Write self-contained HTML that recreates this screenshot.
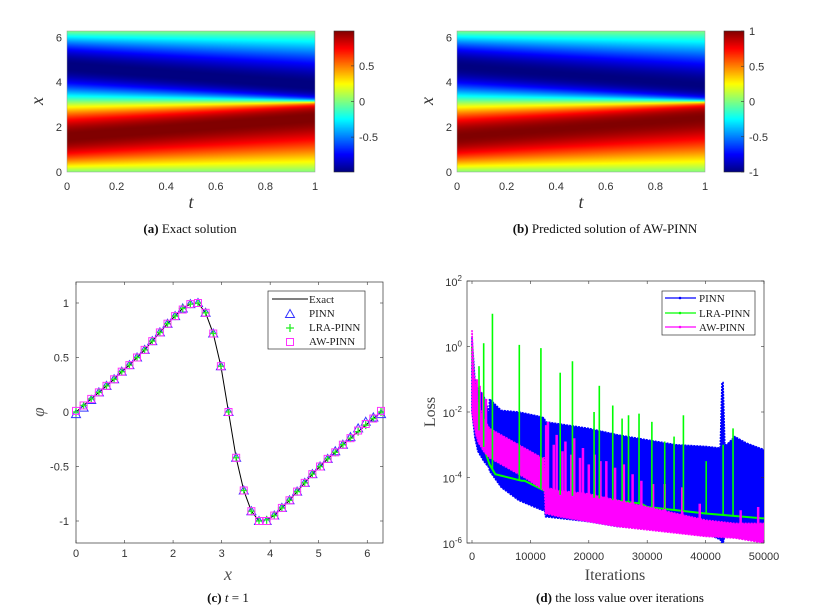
<!DOCTYPE html>
<html><head><meta charset="utf-8">
<style>
html,body{margin:0;padding:0;background:#fff;}
#wrap{position:relative;width:826px;height:607px;overflow:hidden;}
canvas{position:absolute;}
svg{position:absolute;left:0;top:0;}
</style></head>
<body>
<div id="wrap">
<canvas id="hmA" width="248" height="141" style="left:67px;top:31px"></canvas>
<canvas id="cbA" width="20" height="141" style="left:334px;top:31px"></canvas>
<canvas id="hmB" width="248" height="141" style="left:457px;top:31px"></canvas>
<canvas id="cbB" width="20" height="141" style="left:724px;top:31px"></canvas>
<svg id="svg" width="826" height="607" xmlns="http://www.w3.org/2000/svg"></svg>
</div>
<script>
// ---- panel c data ----
const cX = [0,0.157,0.314,0.471,0.628,0.785,0.942,1.100,1.257,1.414,1.571,1.728,1.885,2.042,2.199,2.356,2.513,2.670,2.827,2.985,3.142,3.299,3.456,3.613,3.770,3.927,4.084,4.241,4.398,4.555,4.712,4.869,5.027,5.184,5.341,5.498,5.655,5.812,5.969,6.126,6.283];
const cExact = [0,0.06,0.12,0.18,0.24,0.30,0.37,0.43,0.50,0.57,0.65,0.73,0.81,0.88,0.95,0.99,1.0,0.91,0.72,0.42,0.0,-0.42,-0.72,-0.91,-1.0,-0.99,-0.95,-0.88,-0.81,-0.73,-0.65,-0.57,-0.50,-0.43,-0.37,-0.30,-0.24,-0.18,-0.12,-0.06,0];
const cPinn = [-0.02,0.04,0.11,0.18,0.24,0.30,0.37,0.43,0.50,0.57,0.65,0.73,0.81,0.88,0.95,0.99,1.0,0.91,0.72,0.42,0.0,-0.42,-0.72,-0.91,-1.0,-1.0,-0.95,-0.88,-0.81,-0.73,-0.65,-0.57,-0.50,-0.43,-0.36,-0.30,-0.23,-0.15,-0.09,-0.05,-0.02];
const cLra = cExact.slice();
const cAw = [0.01,0.06,0.12,0.18,0.24,0.30,0.37,0.43,0.50,0.57,0.65,0.73,0.81,0.88,0.94,0.99,1.0,0.91,0.72,0.42,0.0,-0.42,-0.72,-0.91,-1.0,-1.0,-0.95,-0.88,-0.81,-0.73,-0.65,-0.57,-0.50,-0.43,-0.37,-0.30,-0.24,-0.17,-0.11,-0.06,0.01];
const cXTicks = [0,1,2,3,4,5,6];
const cYTicks = [-1,-0.5,0,0.5,1];
const cYTickLabels = ['-1','-0.5','0','0.5','1'];

// ---- panel d data (log10 loss) ----
const pinnIter = [0,500,1000,2000,2900,3000,5000,8000,12000,12400,12600,20000,25000,30000,35000,40000,42500,42800,43000,43300,43600,45000,47000,50000];
const pinnUpper = [0.3,-1.0,-1.3,-1.5,-2.0,-1.6,-1.95,-2.0,-2.15,-2.2,-2.3,-2.5,-2.7,-2.85,-3.0,-3.05,-3.1,-1.1,-1.1,-3.0,-3.0,-2.75,-2.95,-3.15];
const pinnLower = [-2.0,-2.8,-3.2,-3.5,-3.7,-3.8,-4.3,-4.7,-5.0,-5.0,-5.2,-5.35,-5.5,-5.55,-5.65,-5.7,-5.9,-6.0,-6.0,-5.8,-5.6,-5.6,-5.6,-5.6];
const awIter = [0,300,1000,2000,3000,6000,9000,12000,12400,12600,15000,20000,25000,30000,35000,40000,45000,50000];
const awUpper = [0.5,-0.8,-1.7,-2.2,-2.5,-2.8,-3.1,-3.4,-3.4,-4.3,-4.4,-4.5,-4.7,-4.9,-5.1,-5.3,-5.4,-5.4];
const awLower = [-2.0,-2.4,-2.9,-3.2,-3.4,-3.7,-4.0,-4.35,-4.4,-5.1,-5.2,-5.35,-5.5,-5.6,-5.7,-5.8,-5.85,-6.0];
const awSpikeIter = [800,1300,1900,2400,12700,13000,14000,14500,15500,16000,17000,17500,18500,19000,20000,21000,22000,23000,24500,26000,27500,29000,31000,33000,36000,39000,46000,49000];
const awSpikeVal = [-1.0,-1.2,-1.4,-1.6,-2.4,-2.3,-3.0,-2.7,-3.2,-2.9,-3.3,-2.8,-3.4,-3.1,-3.6,-3.3,-3.5,-3.5,-3.7,-3.6,-3.9,-4.1,-4.2,-4.2,-4.3,-4.8,-5.0,-4.9];
const lraIter = [0,500,1500,3000,4000,8500,9000,12400,13000,20000,29000,30000,40000,50000];
const lraBase = [0,-2.0,-2.8,-3.6,-3.9,-4.1,-4.1,-4.4,-4.5,-4.6,-4.8,-4.9,-5.1,-5.25];
const lraSpikeIter = [1200,2000,3500,8100,11800,15100,17200,20900,21800,24100,25700,26800,28600,30800,33000,34600,36200,40100,43000,44700];
const lraSpikeVal = [-0.6,0.1,1.0,0.05,-0.05,-0.8,-0.45,-2.0,-1.2,-1.8,-2.2,-2.1,-2.05,-2.3,-2.9,-2.75,-2.1,-3.5,-3.0,-2.5];
const dXTicks = [0,10000,20000,30000,40000,50000];
const dYTicks = [-6,-4,-2,0,2];

// ---- heatmap colour ranges ----
const cbTicksA = [-0.5,0,0.5];
const cbTicksB = [-1,-0.5,0,0.5,1];

const NS='http://www.w3.org/2000/svg';
const svg=document.getElementById('svg');
function mk(tag,attrs,parent){const e=document.createElementNS(NS,tag);for(const k in attrs)e.setAttribute(k,attrs[k]);(parent||svg).appendChild(e);return e;}
function txt(x,y,s,attrs,parent){const e=mk('text',Object.assign({x:x,y:y},attrs||{}),parent);e.textContent=s;return e;}
const TICKF={'font-family':'Liberation Sans, sans-serif','font-size':'11','fill':'#333'};

function jet(v){v=Math.max(0,Math.min(1,v));const c=a=>Math.round(255*Math.max(0,Math.min(1,a)));
 return [c(1.5-Math.abs(4*v-3)),c(1.5-Math.abs(4*v-2)),c(1.5-Math.abs(4*v-1))];}
function solveU(x,t){let u=Math.sin(x);const c=0.85;for(let i=0;i<30;i++){const a=x-c*u*t;const f=u-Math.sin(a);const fp=1+c*t*Math.cos(a);u-=f/fp;}return u;}
function drawHM(id,vmax){const cv=document.getElementById(id),ctx=cv.getContext('2d');const im=ctx.createImageData(248,141);
 for(let j=0;j<141;j++){const x=(141-j-0.5)/141*2*Math.PI;for(let i=0;i<248;i++){const t=(i+0.5)/248;const u=solveU(x,t);const col=jet((u/vmax+1)/2);const k=(j*248+i)*4;im.data[k]=col[0];im.data[k+1]=col[1];im.data[k+2]=col[2];im.data[k+3]=255;}}
 ctx.putImageData(im,0,0);}
function drawCB(id){const cv=document.getElementById(id),ctx=cv.getContext('2d');for(let j=0;j<141;j++){const col=jet(1-(j+0.5)/141);ctx.fillStyle='rgb('+col.join(',')+')';ctx.fillRect(0,j,20,1);}}
drawHM('hmA',0.99);drawHM('hmB',1.0);drawCB('cbA');drawCB('cbB');

function heatAxes(L,cbL,ticksCb,vmax,tag){
 const T=31,B=172,R=L+248;
 const tx=v=>L+v*248, xy=v=>B-v/(2*Math.PI)*141;
 let e=mk('rect',{x:L,y:T,width:248,height:141,fill:'none',stroke:'#999','stroke-width':0.5});
 
 
 [0,0.2,0.4,0.6,0.8,1].forEach(v=>{e=txt(tx(v),190,String(v),Object.assign({'text-anchor':'middle'},TICKF));
  
  });
 [0,2,4,6].forEach(v=>{e=txt(L-5,xy(v)+4,String(v),Object.assign({'text-anchor':'end'},TICKF));
  
  });
 e=txt(L+124,208,'t',{'font-family':'Liberation Serif, serif','font-style':'italic','font-size':'18','fill':'#333','text-anchor':'middle'});
 
 
 e=txt(0,0,'x',{'font-family':'Liberation Serif, serif','font-style':'italic','font-size':'18','fill':'#333','text-anchor':'middle',transform:'translate('+(L-24)+',101) rotate(-90)'});
 
 
 e=mk('rect',{x:cbL,y:T,width:20,height:141,fill:'none',stroke:'#333','stroke-width':0.6});
 
 
 ticksCb.forEach((v,i)=>{const y=101.5-v/vmax*70.5;mk('line',{x1:cbL+20,x2:cbL+17,y1:y,y2:y,stroke:'#333','stroke-width':0.6});
  e=txt(cbL+25,y+4,String(v),TICKF);
  
  });
}
heatAxes(67,334,cbTicksA,0.99,'exact');
heatAxes(457,724,cbTicksB,1.0,'predicted');

const CAP={'font-family':'Liberation Serif, serif','font-size':'13','fill':'#111','text-anchor':'middle'};
function caption(x,y,b,rest,name){const e=mk('text',Object.assign({x:x,y:y},CAP));const s1=mk('tspan',{'font-weight':'bold'},e);s1.textContent=b;const s2=mk('tspan',{},e);s2.textContent=rest;
 
 }
caption(190,233,'(a)',' Exact solution','caption-a');
caption(605,233,'(b)',' Predicted solution of AW-PINN','caption-b');

// ---- panel c ----
(function(){
 const L=76,R=381,T=282,B=543;
 const sx=v=>L+v/(2*Math.PI)*(R-L), sy=v=>412-v*109;
 let e=mk('rect',{x:L,y:T,width:R-L+2,height:B-T,fill:'#fff',stroke:'#333','stroke-width':0.7});
 
 
 cXTicks.forEach(v=>{mk('line',{x1:sx(v),x2:sx(v),y1:B,y2:B-3,stroke:'#333','stroke-width':0.6});mk('line',{x1:sx(v),x2:sx(v),y1:T,y2:T+3,stroke:'#333','stroke-width':0.6});
  e=txt(sx(v),557,String(v),Object.assign({'text-anchor':'middle'},TICKF));
  
  });
 cYTicks.forEach((v,i)=>{mk('line',{x1:L,x2:L+3,y1:sy(v),y2:sy(v),stroke:'#333','stroke-width':0.6});mk('line',{x1:R+2,x2:R-1,y1:sy(v),y2:sy(v),stroke:'#333','stroke-width':0.6});
  e=txt(L-7,sy(v)+4,cYTickLabels[i],Object.assign({'text-anchor':'end'},TICKF));
  
  });
 e=txt(228,580,'x',{'font-family':'Liberation Serif, serif','font-style':'italic','font-size':'18','fill':'#555','text-anchor':'middle'});
 
 
 e=txt(0,0,'φ',{'font-family':'Liberation Serif, serif','font-style':'italic','font-size':'17','fill':'#555','text-anchor':'middle',transform:'translate(44,412) rotate(-90)'});
 
 
 e=mk('polyline',{points:cX.map((x,i)=>sx(x)+','+sy(cExact[i])).join(' '),fill:'none',stroke:'#000','stroke-width':1});
 
 
 function tri(x,y){return mk('path',{d:'M'+x+','+(y-4.5)+' L'+(x+4.5)+','+(y+3.5)+' L'+(x-4.5)+','+(y+3.5)+'Z',fill:'none',stroke:'#3333ff','stroke-width':1});}
 function plus(x,y){return mk('path',{d:'M'+(x-4)+','+y+'H'+(x+4)+'M'+x+','+(y-4)+'V'+(y+4),stroke:'#22ee22','stroke-width':1.3});}
 function sq(x,y){return mk('rect',{x:x-3.5,y:y-3.5,width:7,height:7,fill:'none',stroke:'#ff33ff','stroke-width':1});}
 cX.forEach((x,i)=>{e=tri(sx(x),sy(cPinn[i]));
  });
 cX.forEach((x,i)=>{e=plus(sx(x),sy(cLra[i]));
  });
 cX.forEach((x,i)=>{e=sq(sx(x),sy(cAw[i]));
  });
 e=mk('rect',{x:268,y:291,width:97,height:58,fill:'#fff',stroke:'#333','stroke-width':0.7});
 
 
 mk('line',{x1:272,x2:308,y1:299,y2:299,stroke:'#000','stroke-width':1});
 tri(290,314);plus(290,328);sq(290,342);
 const LF={'font-family':'Liberation Serif, serif','font-size':'11','fill':'#222'};
 [['Exact',303],['PINN',317],['LRA-PINN',331],['AW-PINN',345]].forEach(a=>{e=txt(309,a[1],a[0],LF);
  
  });
 caption(228,602,'(c)','',  'caption-c');
 e=svg.lastChild;const s=mk('tspan',{'font-style':'italic'},e);s.textContent=' t';const s2=mk('tspan',{},e);s2.textContent=' = 1';
})();

// ---- panel d ----
(function(){
 const L=467,R=764,T=281,B=543;
 const sx=v=>472+v/50000*(764-472), sy=v=>B-(v+6)/8*(B-T);
 let e=mk('rect',{x:L,y:T,width:R-L,height:B-T,fill:'#fff',stroke:'#333','stroke-width':0.7});
 
 
 const g=mk('g',{'clip-path':'url(#clipD)'});
 const cp=mk('clipPath',{id:'clipD'});mk('rect',{x:L,y:T,width:R-L,height:B-T},cp);
 function band(it,up,lo,col){const pts=it.map((x,i)=>sx(x)+','+sy(up[i])).concat(it.slice().reverse().map((x,k)=>sx(x)+','+sy(lo[it.length-1-k])));
  return mk('polygon',{points:pts.join(' '),fill:col,stroke:col,'stroke-width':1.5,'stroke-dasharray':'2 1'},g);}
 e=band(pinnIter,pinnUpper,pinnLower,'#0000ff');
 
 
 e=mk('polyline',{points:lraIter.map((x,i)=>sx(x)+','+sy(lraBase[i])).join(' '),fill:'none',stroke:'#00ff00','stroke-width':2},g);
 
 
 e=band(awIter,awUpper,awLower,'#ff00ff');
 
 
 function baseAt(it,vals,x){for(let i=1;i<it.length;i++){if(x<=it[i]){const f=(x-it[i-1])/(it[i]-it[i-1]);return vals[i-1]+f*(vals[i]-vals[i-1]);}}return vals[vals.length-1];}
 awSpikeIter.forEach((x,i)=>{e=mk('line',{x1:sx(x),x2:sx(x),y1:sy(baseAt(awIter,awLower,x)),y2:sy(awSpikeVal[i]),stroke:'#ff00ff','stroke-width':2.5},g);
  
  });
 lraSpikeIter.forEach((x,i)=>{e=mk('line',{x1:sx(x),x2:sx(x),y1:sy(baseAt(lraIter,lraBase,x)),y2:sy(lraSpikeVal[i]),stroke:'#00ff00','stroke-width':1.6},g);
  
  });
 dXTicks.forEach(v=>{mk('line',{x1:sx(v),x2:sx(v),y1:B,y2:B-3,stroke:'#333','stroke-width':0.6});mk('line',{x1:sx(v),x2:sx(v),y1:T,y2:T+3,stroke:'#333','stroke-width':0.6});
  e=txt(sx(v),560,String(v),Object.assign({'text-anchor':'middle'},TICKF));
  
  });
 dYTicks.forEach(v=>{mk('line',{x1:L,x2:L+3,y1:sy(v),y2:sy(v),stroke:'#333','stroke-width':0.6});mk('line',{x1:R,x2:R-3,y1:sy(v),y2:sy(v),stroke:'#333','stroke-width':0.6});
  e=mk('text',Object.assign({x:L-5,y:sy(v)+5,'text-anchor':'end'},TICKF));const a=mk('tspan',{},e);a.textContent='10';const b=mk('tspan',{dy:-5,'font-size':'8'},e);b.textContent=String(v);
  
  });
 e=txt(615,580,'Iterations',{'font-family':'Liberation Serif, serif','font-size':'16','fill':'#444','text-anchor':'middle'});
 
 
 e=txt(0,0,'Loss',{'font-family':'Liberation Serif, serif','font-size':'16','fill':'#444','text-anchor':'middle',transform:'translate(435,412) rotate(-90)'});
 
 
 e=mk('rect',{x:662,y:291,width:93,height:44,fill:'#fff',stroke:'#333','stroke-width':0.7});
 
 
 const LF={'font-family':'Liberation Serif, serif','font-size':'11','fill':'#222'};
 [['PINN',298,'#0000ff'],['LRA-PINN',313,'#00ff00'],['AW-PINN',327,'#ff00ff']].forEach(a=>{
  mk('line',{x1:665,x2:696,y1:a[1],y2:a[1],stroke:a[2],'stroke-width':1.3});mk('circle',{cx:680,cy:a[1],r:1.3,fill:a[2]});
  e=txt(699,a[1]+4,a[0],LF);
  
  });
 caption(620,602,'(d)',' the loss value over iterations','caption-d');
})();
</script>
</body></html>
